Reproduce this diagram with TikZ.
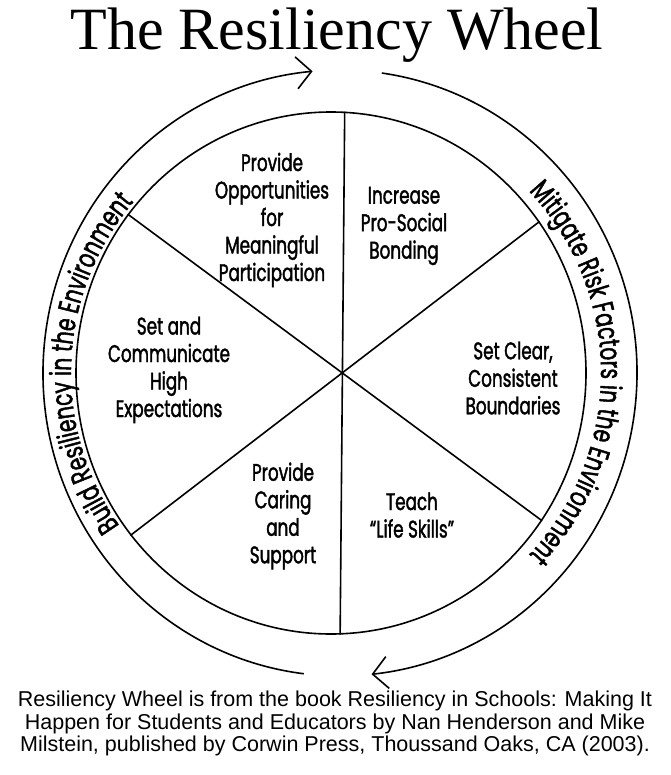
\documentclass[tikz,border=0pt]{standalone}
\usepackage{fontspec}
\setmainfont{Liberation Serif}
\newfontfamily\wheelfam[FakeStretch=0.70, FakeBold=1.6]{Poppins}
\newfontfamily\notefam{Liberation Sans}
\usepackage{tikz}
\usetikzlibrary{shapes.geometric, arrows.meta, decorations.text}
\newcommand{\bandfont}{\wheelfam\fontsize{29}{29}\selectfont}
\tikzset{
    wheel/.style={ellipse, draw, line width=1.6pt, minimum width=510pt, minimum height=522pt, inner sep=0pt},
    spoke/.style={line width=1.6pt},
    flow/.style={line width=1.6pt, -{Straight Barb[length=15pt,width=32pt]}},
    wedge/.style={align=center, font=\wheelfam\fontsize{24}{27.5}\selectfont, inner sep=0pt},
    arclabel/.style={decorate, decoration={text along path, text align=center, text={#1}}}
}

\begin{document}
\begin{tikzpicture}[x=1pt, y=1pt]
    \useasboundingbox (0,0) rectangle (670,-775);

    % Title
    \node (title) [anchor=base, font=\fontsize{60}{60}\selectfont] at (337,-50) {The Resiliency Wheel};

    % Wheel and spokes
    \node (wheel) [wheel] at (331,-373) {};
    \draw [spoke] (wheel.87.4) -- (wheel.272.6);
    \draw [spoke] (wheel.142.6) -- (wheel.325.3);
    \draw [spoke] (wheel.36.5) -- (wheel.219.5);

    % Wedges
    \node (participate) [wedge] at (272,-220) {Provide\\Opportunities\\for\\Meaningful\\Participation};
    \node (bonding) [wedge] at (404,-226) {Increase\\Pro-Social\\Bonding};
    \node (expect) [wedge] at (169,-370) {Set and\\Communicate\\High\\Expectations};
    \node (bounds) [wedge] at (513,-378) {Set Clear,\\Consistent\\Boundaries};
    \node (caring) [wedge] at (283,-516) {Provide\\Caring\\and\\Support};
    \node (skills) [wedge] at (412,-515) {Teach\\“Life Skills”};

    % Outer arrows
    \coordinate (rim) at (340,-373);
    \draw [flow] ([shift={(263:297 and 303)}]rim) arc [start angle=263, end angle=95.3, x radius=297, y radius=303];
    \draw [flow] ([shift={(81.9:297 and 303)}]rim) arc [start angle=81.9, end angle=-83.9, x radius=297, y radius=303];

    % Arc labels
    \coordinate (band) at (336,-373);
    \path [arclabel={|\bandfont|Build Resiliency in the Environment}] ([shift={(227.5:265)}]band) arc [start angle=227.5, end angle=127.5, radius=265];
    \path [arclabel={|\bandfont|Mitigate Risk Factors in the Environment}] ([shift={(52:265)}]band) arc [start angle=52, end angle=-52, radius=265];

    % Source note
    \node (source) [anchor=north, align=center, inner sep=0pt, font=\notefam\fontsize{21.5}{22.5}\selectfont] at (335,-691) {Resiliency Wheel is from the book Resiliency in Schools: Making It\\Happen for Students and Educators by Nan Henderson and Mike\\Milstein, published by Corwin Press, Thoussand Oaks, CA (2003).};
\end{tikzpicture}
\end{document}
